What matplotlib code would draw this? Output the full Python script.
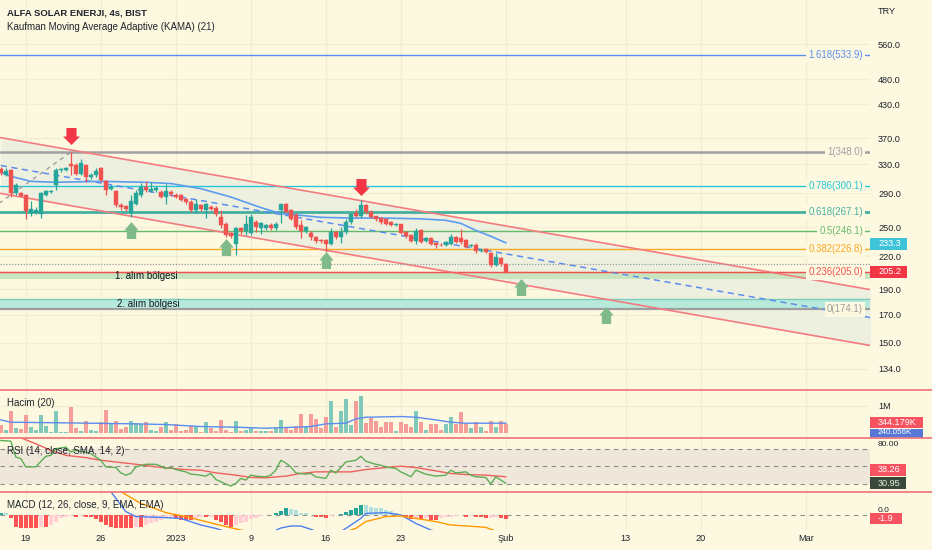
import numpy as np
import matplotlib
matplotlib.use("Agg")
import matplotlib.pyplot as plt
from matplotlib.path import Path
from matplotlib.patches import Rectangle
from matplotlib.transforms import blended_transform_factory
from matplotlib.ticker import NullLocator, FixedLocator, FixedFormatter

plt.rcParams['font.family'] = ['Liberation Sans', 'DejaVu Sans']

# ---------------- data ----------------
first_bar = -5
opens = [322.5, 314.6, 321, 290, 290, 287.6, 266, 266.5, 265, 288.5, 292, 300.6, 321, 322, 329.7, 328.3,
         316.5, 328.3, 312, 314, 324.4, 306, 296, 292.5, 276, 274, 266.5, 277, 287.6, 298.4, 293, 294.5,
         292, 286, 292, 288.5, 287.6, 282.5, 279.8, 269.2, 275, 269, 273, 272.2, 261.4, 253.8, 243.2, 232,
         248.6, 245.3, 244, 255.8, 248.5, 249, 251.9, 248.5, 269.2, 276.3, 269.2, 264.2, 251.9, 245.3, 243.8,
         239.4, 236.3, 235.8, 231.7, 244.7, 239.4, 244.7, 255.7, 266.2, 262, 275.2, 266.8, 262, 259.9, 258.7,
         255.3, 251.9, 253, 244.2, 241.1, 235, 246.4, 234.8, 237.9, 232.7, 231.5, 231, 232, 239, 237.9, 235.8,
         229.6, 230.7, 224.6, 226.6, 222.6, 211.5, 218, 212.2]
highs = [326, 324, 322.5, 303, 291.5, 289, 280, 273, 292, 295, 295, 324, 324, 326, 348, 331,
         338, 330.5, 317, 324.4, 326, 307.3, 301, 294, 278, 275, 287.6, 294, 303, 307, 305, 300,
         294, 302, 294, 290, 289, 284, 281.3, 282.5, 277, 278, 275, 274, 269, 256, 245, 250.5,
         250, 263.3, 265, 257.6, 256, 253.5, 254.5, 256, 277, 278.5, 270.5, 266, 257.6, 251, 245.7,
         240.4, 237, 237, 249, 246, 250, 259.5, 266, 271, 281.3, 276.5, 269, 263, 261.4, 260,
         256.5, 254.5, 254, 245.3, 242, 248.5, 248, 239, 239, 234, 232.7, 235, 242, 240, 247.5, 237,
         232, 232.7, 227.6, 228, 224, 222.6, 219, 213]
lows = [314, 312.8, 285, 287.6, 285, 259, 263, 264.5, 260, 287, 290, 294, 319, 320, 314, 314,
        314, 305, 309, 312, 305, 287.6, 294, 273, 270, 268, 261, 275, 286, 292, 291.5, 292,
        284, 277, 287, 284, 280, 277, 267, 266, 268, 260, 269, 263, 248.5, 239.4, 238.5, 220.7,
        243, 241, 241, 244.3, 243, 247, 246.4, 247, 255, 266, 258, 248, 237.9, 244, 235.8,
        233, 233, 224.1, 230.7, 237, 233.2, 242.5, 253, 261.4, 259.9, 265, 259.9, 257, 254, 252.5,
        250.8, 250.8, 242, 238, 233.7, 231.7, 232.7, 233.7, 230.7, 227.6, 230, 230, 231, 232.7, 232, 227.6,
        228.6, 222.6, 223.6, 222.6, 210, 210.5, 211, 204.5]
closes = [317, 319.7, 290, 300.6, 287, 268, 271, 270, 290, 292.5, 293.5, 321, 322.5, 324, 327, 316.5,
          331, 312, 315, 319.7, 307.3, 295, 298, 275.2, 272.8, 270.4, 280, 290, 298.4, 294, 296, 297,
          285.5, 293, 289, 285.5, 281.3, 279.3, 269.2, 277, 270.4, 276.3, 271, 265.2, 251.9, 241.1, 240, 248.6,
          245.3, 253, 261.4, 250, 254.6, 251.9, 248.5, 253.8, 276.3, 267.5, 259.5, 250, 245.3, 250, 239.4,
          234.9, 235.3, 231.7, 244.7, 239.4, 244.7, 255.7, 264.4, 262.4, 275.2, 266.8, 261.4, 258.7, 255.3, 253.8,
          251.9, 253.3, 243.2, 240, 235, 245.3, 233.7, 237.9, 231.7, 230.7, 231, 233.7, 239, 233.7, 233.7, 228.6,
          230.7, 224.6, 225.6, 223.6, 211.5, 218.7, 212.2, 205.2]
volume_k = [300, 120, 794, 180, 144, 674, 241, 120, 662, 265, 36, 794, 36, 36, 938, 180, 96, 433, 120, 96, 397,
            854, 337, 457, 156, 241, 457, 361, 337, 397, 120, 96, 241, 397, 120, 337, 96, 120, 277, 217, 36,
            397, 180, 72, 481, 120, 36, 433, 96, 120, 192, 96, 96, 96, 96, 180, 481, 192, 120, 277, 698,
            241, 698, 517, 192, 602, 1155, 217, 818, 1239, 313, 1179, 1335, 361, 553, 433, 241, 397, 397, 96, 397,
            337, 241, 818, 397, 120, 337, 337, 120, 337, 577, 337, 758, 337, 180, 397, 241, 96, 457, 241, 457,
            344.179]
vol_ma_bars = [-5, -3, 8, 22, 28, 35, 42, 48, 54, 57, 60, 64, 66, 68, 75, 78, 82, 85, 88, 96]
vol_ma_k = [481, 397, 373, 337, 313, 241, 217, 180, 217, 241, 337, 361, 517, 577, 602, 577, 481, 397, 361, 361]
vol_ma_label = '240.056K'
kama_bars = [-5, -3, 1, 6, 15, 24, 29, 35, 41, 47, 51, 55, 59, 65, 71, 79, 84, 87, 90, 93, 96]
kama_vals = [318.3, 312.7, 305.9, 304.6, 305.9, 304.6, 302.9, 296.2, 285.5, 272.5, 265.3, 263.3, 261.0,
             260.2, 260.2, 259.3, 257.6, 254.2, 246.4, 240.1, 233.3]
rsi_bars = [-5, -3, -2, -1, 0, 2, 4, 5, 6, 8, 9, 10, 12, 13, 14, 15, 16, 18, 19, 20, 21, 22, 24, 26, 27, 28,
            29, 30, 32, 33, 34, 36, 37, 38, 40, 41, 42, 43, 44, 45, 46, 48, 49, 50, 51, 52, 53, 54, 56, 57,
            58, 60, 61, 62, 63, 64, 66, 67, 68, 70, 71, 72, 74, 75, 76, 77, 78, 80, 81, 82, 84, 85, 86, 88,
            89, 90, 92, 93, 94, 95, 96]
rsi_vals = [79.3, 78.5, 60.6, 58.8, 49.4, 49.5, 61.4, 62.5, 70.0, 71.8, 66.2, 68.1, 66.2, 64.4, 60.6, 56.9,
            49.4, 48.7, 42.7, 40.1, 42.0, 49.4, 52.4, 52.4, 50.2, 47.6, 48.7, 46.4, 43.8, 41.2, 40.8, 39.0,
            42.0, 35.2, 30.0, 27.8, 30.8, 36.4, 34.5, 40.1, 39.0, 38.2, 40.1, 45.7, 56.9, 53.9, 49.4, 42.7,
            41.2, 42.0, 38.2, 36.4, 45.7, 42.7, 48.7, 55.0, 56.9, 61.4, 55.8, 52.4, 51.3, 49.4, 47.6, 43.8,
            41.2, 38.2, 45.7, 41.2, 40.1, 39.0, 40.1, 45.7, 42.7, 43.8, 40.1, 38.2, 37.5, 30.0, 38.2, 34.5, 30.95]
rsi_sma_bars = [-5, -1, 2, 5, 8, 12, 15, 18, 22, 25, 28, 32, 35, 38, 42, 45, 48, 52, 55, 58, 62, 65, 68, 72,
                75, 78, 82, 85, 88, 92, 96]
rsi_sma_vals = [92.0, 82.3, 75.6, 68.1, 62.5, 59.9, 56.9, 55.0, 52.4, 50.2, 48.3, 46.4, 45.7, 42.7, 40.1, 37.5,
                37.1, 39.0, 42.0, 43.8, 43.8, 43.8, 46.4, 48.7, 50.2, 48.7, 44.9, 42.0, 40.8, 40.1, 38.26]
macd_hist = [1.2, 0.83, -1.67, -5.83, -6.67, -6.67, -6.67, -6.67, -5.83, -5.83, -5.0,
             -3.33, -1.67, -0.83, -0.5, -0.83, -0.5, -0.83, -0.83, -2.17, -3.33,
             -5.0, -5.83, -6.67, -6.67, -6.67, -6.67, -5.83, -5.83, -5.0, -4.17,
             -3.33, -2.5, -1.17, -0.83, -1.67, -2.5, -2.5, -2.5, -1.67, -0.83,
             -1.17, -0.83, -2.5, -3.33, -5.0, -5.83, -5.0, -4.17, -3.33, -2.17,
             -1.33, -0.5, -0.17, 0.17, 0.83, 2.0, 3.33, 3.2, 2.5, 1.17,
             0.83, 0.0, -0.83, -1.17, -1.3, -0.5, -0.1, 0.33, 1.67, 2.5,
             3.67, 5.0, 4.9, 4.17, 3.67, 3.33, 2.5, 2.0, 1.17, 0.1,
             -0.83, -2.17, -1.67, -2.17, -1.67, -2.5, -2.6, -1.67, -1.17, -0.83,
             -0.5, -0.17, -0.83, -0.5, -0.83, -1.17, -1.67, -1.6, -1.17, -1.67,
             -1.9]
macd_bars = [15, 17, 20, 22, 27, 31, 35, 38, 42, 48, 51, 53, 55, 58, 62, 64, 67, 68, 72, 75, 78, 81, 85, 96]
macd_vals = [17.5, 11.7, 1.7, -0.8, -1.2, -1.7, -5.0, -6.7, -10, -10, -6.5, -5.5, -5.5, -8, -10, -6.7, -1.7,
             0.8, 1.2, 0.0, -4.2, -7.5, -10, -10]
signal_bars = [18, 19, 23, 28, 32, 36, 40, 43, 46, 62, 66, 68, 72, 75, 78, 82, 85, 90, 92, 94]
signal_vals = [14, 11.7, 5.8, 1.2, -0.8, -3.3, -5.8, -7.5, -9, -10, -6.7, -3.3, -0.8, -0.5, -1.7, -3.3,
               -5.0, -5.8, -6.2, -8]
tick_bars = [0, 15, 30, 45, 60, 75, 96, 120, 135, 156]
tick_labels = ['19', '26', '2023', '9', '16', '23', 'Şub', '13', '20', 'Mar']
price_ticks = [134, 150, 170, 190, 220, 250, 290, 330, 370, 430, 480, 560]
fib_anchor_bars = [-35, 9]
fib_anchor_prices = [174.1, 348.0]
fib_levels = [0, 0.236, 0.382, 0.5, 0.618, 0.786, 1, 1.618]
channel_bars = [-5, 169]
channel_upper = [370.8, 189.7]
channel_lower = [290.0, 148.3]
zone_names = ['1. alım bölgesi', '2. alım bölgesi']
zone_low = [198.5, 174.1]
zone_high = [205.0, 182.5]
sell_arrow_bars = [9, 67]
sell_arrow_prices = [374.0, 298.6]
buy_arrow_bars = [21, 40, 60, 99, 116]
buy_arrow_prices = [246.4, 229.2, 215.9, 192.0, 169.7]
ref_level = 212.6

# ---------------- style ----------------
W, H = 932, 550
BG = '#fdf9e1'
GRID = '#f1ecd2'
FS = 6.6
TXT = '#20232c'
UP, DN = '#26a69a', '#ef5350'
PR = 870

fig = plt.figure(figsize=(W / 100, H / 100), dpi=100, facecolor=BG)


def add_panel(top, bottom, share=None):
    a = fig.add_axes([0, 1 - bottom / H, PR / W, (bottom - top) / H], sharex=share, facecolor=BG)
    for s in a.spines.values():
        s.set_visible(False)
    a.yaxis.tick_right()
    a.tick_params(axis='y', length=0, labelsize=FS, colors=TXT, pad=5.8)
    a.tick_params(axis='x', length=0, labelsize=FS, colors=TXT, pad=3, labelbottom=False)
    a.set_axisbelow(True)
    return a


ax = add_panel(0, 389.5)
axv = add_panel(389.5, 437.5, ax)
axr = add_panel(437.5, 492, ax)
axm = add_panel(492, 530, ax)

ax.set_xlim(-5.16, 168.84)
ax.xaxis.set_major_locator(FixedLocator(tick_bars))
ax.xaxis.set_major_formatter(FixedFormatter(tick_labels))
axm.tick_params(axis='x', labelbottom=True)
for a in (ax, axv, axr, axm):
    a.grid(True, axis='x', color=GRID, lw=0.9)

# ---- main price panel ----
ax.set_yscale('log')
ax.set_ylim(122.2, 680.3)
ax.yaxis.set_major_locator(FixedLocator(price_ticks))
ax.yaxis.set_major_formatter(FixedFormatter([f'{p:.1f}' for p in price_ticks]))
ax.yaxis.set_minor_locator(NullLocator())
ax.grid(True, axis='y', color=GRID, lw=0.9)

bars = np.arange(first_bar, first_bar + len(opens))
o, hi, lo, c = map(np.array, (opens, highs, lows, closes))
up = c >= o
ccol = np.where(up, UP, DN)

# channel
cb = np.array(channel_bars, float)
cu = np.array(channel_upper)
cl = np.array(channel_lower)
ax.fill_between(cb, cl, cu, color='#eef0df', lw=0, zorder=1)
# zones
zone_cols = ['#c9e5bf', '#b8eadc']
for zl, zh, zc in zip(zone_low, zone_high, zone_cols):
    ax.axhspan(zl, zh, color=zc, lw=0, zorder=2)
ax.axhline(zone_high[1], color='#79cbbb', lw=1.0, zorder=2.5)

# fibonacci
lnl, lnh = np.log(fib_anchor_prices[0]), np.log(fib_anchor_prices[1])
fib_cols = ['#9e9e9e', '#ef5350', '#ffa726', '#66bb6a', '#45b09f', '#26c6da', '#a0a0a0', '#5b8def']
fib_lw = [1.6, 1.0, 1.0, 1.0, 2.0, 1.0, 1.8, 1.0]
bt = blended_transform_factory(ax.transAxes, ax.transData)
for lv, col, lw in zip(fib_levels, fib_cols, fib_lw):
    p = np.exp(lnl + lv * (lnh - lnl))
    ax.plot([fib_anchor_bars[0], 172], [p, p], color=col, lw=lw, zorder=3, solid_capstyle='butt')
    ax.text(863 / PR, p, f'{lv:g}({p:.1f})', transform=bt, ha='right', va='center', color=col,
            fontsize=FS + 0.3, zorder=9,
            bbox=dict(boxstyle='square,pad=0.25', fc=BG, ec='none'))
ax.plot(fib_anchor_bars, fib_anchor_prices, color='#9e9e9e', lw=1.0, ls=(0, (3, 3)), zorder=3)

# channel lines
ax.plot(cb, cu, color='#f47b80', lw=1.2, zorder=4)
ax.plot(cb, cl, color='#f47b80', lw=1.2, zorder=4)
ax.plot(cb, np.sqrt(cu * cl), color='#5b8def', lw=1.1, ls=(0, (4, 3)), zorder=4)

# reference dotted lines
ax.axhline(ref_level, color='#9a9a9a', lw=0.9, ls=(0, (1, 1.3)), zorder=4)
ax.axhline(closes[-1], color='#ef5350', lw=0.9, ls=(0, (1, 1.3)), zorder=4)

# zone labels
ax.text(24.2, np.sqrt(zone_low[0] * zone_high[0]), zone_names[0], ha='center', va='center',
        fontsize=FS + 0.4, color='#131722', zorder=9)
ax.text(24.6, np.sqrt(zone_low[1] * zone_high[1]), zone_names[1], ha='center', va='center',
        fontsize=FS + 0.4, color='#131722', zorder=9)

# KAMA
ax.plot(kama_bars, kama_vals, color='#5b9cf0', lw=1.2, zorder=5)

# candles
ax.vlines(bars, lo, hi, colors=ccol, lw=0.9, zorder=6)
ax.bar(bars, np.maximum(np.abs(c - o), 0.3), bottom=np.minimum(o, c), width=0.74, color=ccol,
       edgecolor=ccol, lw=0.3, zorder=7)


# arrows
def arrow_path(head, shaft, down=False):
    v = [(-shaft, -1), (shaft, -1), (shaft, 0), (head, 0), (0, 1), (-head, 0), (-shaft, 0), (-shaft, -1)]
    if down:
        v = [(x, -y) for x, y in v]
    return Path(v, [Path.MOVETO] + [Path.LINETO] * 6 + [Path.CLOSEPOLY])


ax.plot(sell_arrow_bars, sell_arrow_prices, ls='none', marker=arrow_path(1.0, 0.6, True),
        markersize=12.2, color='#f23645', mec='none', zorder=8)
ax.plot(buy_arrow_bars, buy_arrow_prices, ls='none', marker=arrow_path(0.85, 0.55),
        markersize=12.2, color='#80b98a', mec='none', zorder=8)

# ---- volume panel ----
vol = np.array(volume_k) * 1000.0
vcol = np.where(up, '#80c9ba', '#f59d98')
axv.bar(bars, vol, width=0.78, color=vcol, lw=0, zorder=2)
axv.plot(vol_ma_bars, np.array(vol_ma_k) * 1000.0, color='#5b8def', lw=1.0, zorder=3)
axv.set_ylim(-155e3, 1578e3)
axv.yaxis.set_major_locator(FixedLocator([1e6]))
axv.yaxis.set_major_formatter(FixedFormatter(['1M']))
axv.grid(True, axis='y', color=GRID, lw=0.9)

# ---- RSI panel ----
axr.set_ylim(21.04, 82.66)
axr.set_yticks([])
axr.axhspan(30, 70, color='#efe8da', lw=0, zorder=1)
for lvl in (70, 50, 30):
    axr.axhline(lvl, color='#8c8c8c', lw=0.8, ls=(0, (4, 4)), zorder=2)
axr.plot(rsi_sma_bars, rsi_sma_vals, color='#ef5f5c', lw=1.0, zorder=3)
axr.plot(rsi_bars, rsi_vals, color='#5cae55', lw=1.0, zorder=4)

# ---- MACD panel ----
axm.set_ylim(-7.5, 11.5)
axm.set_yticks([])
hist = np.array(macd_hist)
prev = np.concatenate([[hist[0]], hist[:-1]])
hcol = np.where(hist >= 0, np.where(hist >= prev, '#26a69a', '#b2dfdb'),
                np.where(hist <= prev, '#ff5252', '#ffcdd2'))
axm.axhline(0, color='#8c8c8c', lw=0.8, ls=(0, (4, 4)), zorder=1)
axm.bar(bars, hist, width=0.78, color=hcol, lw=0, zorder=2)
axm.plot(macd_bars, macd_vals, color='#4d7ff0', lw=1.0, zorder=3)
axm.plot(signal_bars, signal_vals, color='#ff9800', lw=1.0, zorder=3)

# ---- texts ----
fig.text(7 / W, 1 - 13 / H, 'ALFA SOLAR ENERJI, 4s, BIST', fontsize=FS + 0.2, fontweight='bold',
         color=TXT, va='center')
fig.text(7 / W, 1 - 26.5 / H, 'Kaufman Moving Average Adaptive (KAMA) (21)', fontsize=FS + 0.4,
         color=TXT, va='center')
fig.text(878 / W, 1 - 12 / H, 'TRY', fontsize=FS, color=TXT, va='center')
fig.text(7 / W, 1 - 403 / H, 'Hacim (20)', fontsize=FS + 0.4, color=TXT, va='center')
fig.text(7 / W, 1 - 451 / H, 'RSI (14, close, SMA, 14, 2)', fontsize=FS + 0.4, color=TXT, va='center')
fig.text(7 / W, 1 - 505 / H, 'MACD (12, 26, close, 9, EMA, EMA)', fontsize=FS + 0.4, color=TXT, va='center')
fig.text(878 / W, 1 - 444.5 / H, '80.00', fontsize=FS - 0.6, color=TXT, va='center', zorder=1)
fig.text(878 / W, 1 - 510 / H, '0.0', fontsize=FS - 0.6, color=TXT, va='center', zorder=1)


def tag(ypix, text, bg, fg='white', w=37, h=12.5, fs=FS):
    fig.add_artist(Rectangle((PR / W, 1 - (ypix + h / 2) / H), w / W, h / H, transform=fig.transFigure,
                             fc=bg, ec='none', zorder=20))
    fig.text(878 / W, 1 - ypix / H, text, color=fg, fontsize=fs, va='center', ha='left', zorder=21)


def ypix_of(axis, val):
    return H - axis.transData.transform((0, val))[1]


tag(ypix_of(ax, kama_vals[-1]) + 1, f'{kama_vals[-1]:.1f}', '#3fc3d8')
tag(ypix_of(ax, closes[-1]), f'{closes[-1]:.1f}', '#f23645')
tag(433.0, vol_ma_label, '#5677d6', w=53, h=9, fs=FS - 0.8)
tag(422.5, f'{volume_k[-1]:.3f}K', '#f7525f', w=53, h=11.5)
tag(469.7, f'{rsi_sma_vals[-1]:.2f}', '#f7525f', w=36, h=12)
tag(483.3, f'{rsi_vals[-1]:.2f}', '#3a473b', fg='#dff2d8', w=36, h=12)
tag(518.3, f'{macd_hist[-1]:.1f}', '#f7525f', w=32, h=11)

# pane separators
for yp in (389.5, 437.5, 492):
    fig.add_artist(plt.Line2D([0, 1], [1 - yp / H] * 2, transform=fig.transFigure, color='#f07a80',
                              lw=1.3, zorder=25))

fig.savefig('out.png', dpi=100, facecolor=BG)
